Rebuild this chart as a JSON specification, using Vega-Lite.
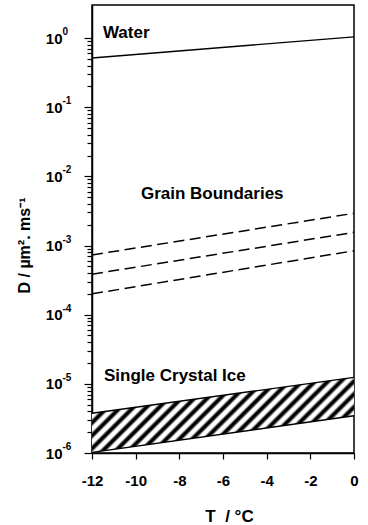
{
  "$schema": "https://vega.github.io/schema/vega-lite/v6.json",
  "width": 262,
  "height": 448,
  "autosize": "none",
  "padding": {"left": 92, "top": 5, "right": 14, "bottom": 72},
  "background": "white",
  "config": {
    "view": {"stroke": "black", "strokeWidth": 1.5},
    "font": "Liberation Sans",
    "axis": {
      "grid": false,
      "domainColor": "black",
      "domainWidth": 1.5,
      "tickColor": "black",
      "tickWidth": 1.2,
      "labelColor": "black",
      "titleColor": "black",
      "labelFont": "Liberation Sans",
      "labelFontWeight": "bold",
      "labelFontSize": 15,
      "titleFont": "Liberation Sans",
      "titleFontWeight": "bold",
      "titleFontSize": 17,
      "labelOverlap": false,
      "labelFlush": false
    }
  },
  "datasets": {
    "band": [
      {"T": -12, "lo": 1.02e-6, "hi": 3.75e-6},
      {"T": 0, "lo": 3.46e-6, "hi": 1.24e-5}
    ],
    "lines": [
      {"series": "Water", "kind": "solid", "T": -12, "D": 0.514},
      {"series": "Water", "kind": "solid", "T": 0, "D": 1.04},
      {"series": "GB1", "kind": "dashed", "T": -12, "D": 7.3e-4},
      {"series": "GB1", "kind": "dashed", "T": 0, "D": 2.92e-3},
      {"series": "GB2", "kind": "dashed", "T": -12, "D": 3.85e-4},
      {"series": "GB2", "kind": "dashed", "T": 0, "D": 1.55e-3},
      {"series": "GB3", "kind": "dashed", "T": -12, "D": 2.0e-4},
      {"series": "GB3", "kind": "dashed", "T": 0, "D": 8.4e-4},
      {"series": "IceHigh", "kind": "solid", "T": -12, "D": 3.75e-6},
      {"series": "IceHigh", "kind": "solid", "T": 0, "D": 1.24e-5},
      {"series": "IceLow", "kind": "solid", "T": -12, "D": 1.02e-6},
      {"series": "IceLow", "kind": "solid", "T": 0, "D": 3.46e-6}
    ],
    "labels": [
      {"T": -11.5, "D": 1.18, "text": "Water"},
      {"T": -9.76, "D": 5.5e-3, "text": "Grain Boundaries"},
      {"T": -11.45, "D": 1.3e-5, "text": "Single Crystal Ice"}
    ],
    "exps": [
      {"D": 1, "e": "0"},
      {"D": 0.1, "e": "-1"},
      {"D": 0.01, "e": "-2"},
      {"D": 0.001, "e": "-3"},
      {"D": 0.0001, "e": "-4"},
      {"D": 0.00001, "e": "-5"},
      {"D": 0.000001, "e": "-6"}
    ]
  },
  "layer": [
    {
      "data": {"name": "band"},
      "mark": {
        "type": "area",
        "fill": {
          "gradient": "linear",
          "x1": 0, "y1": 0, "x2": 1.189, "y2": 0.341,
          "stops": [
            {"offset": 0, "color": "#fff"},
            {"offset": 0.0058, "color": "#fff"}, {"offset": 0.0154, "color": "#000"}, {"offset": 0.0231, "color": "#000"}, {"offset": 0.0327, "color": "#fff"},
            {"offset": 0.0442, "color": "#fff"}, {"offset": 0.0538, "color": "#000"}, {"offset": 0.0615, "color": "#000"}, {"offset": 0.0712, "color": "#fff"},
            {"offset": 0.0827, "color": "#fff"}, {"offset": 0.0923, "color": "#000"}, {"offset": 0.1, "color": "#000"}, {"offset": 0.1096, "color": "#fff"},
            {"offset": 0.1212, "color": "#fff"}, {"offset": 0.1308, "color": "#000"}, {"offset": 0.1385, "color": "#000"}, {"offset": 0.1481, "color": "#fff"},
            {"offset": 0.1596, "color": "#fff"}, {"offset": 0.1692, "color": "#000"}, {"offset": 0.1769, "color": "#000"}, {"offset": 0.1865, "color": "#fff"},
            {"offset": 0.1981, "color": "#fff"}, {"offset": 0.2077, "color": "#000"}, {"offset": 0.2154, "color": "#000"}, {"offset": 0.225, "color": "#fff"},
            {"offset": 0.2365, "color": "#fff"}, {"offset": 0.2462, "color": "#000"}, {"offset": 0.2538, "color": "#000"}, {"offset": 0.2635, "color": "#fff"},
            {"offset": 0.275, "color": "#fff"}, {"offset": 0.2846, "color": "#000"}, {"offset": 0.2923, "color": "#000"}, {"offset": 0.3019, "color": "#fff"},
            {"offset": 0.3135, "color": "#fff"}, {"offset": 0.3231, "color": "#000"}, {"offset": 0.3308, "color": "#000"}, {"offset": 0.3404, "color": "#fff"},
            {"offset": 0.3519, "color": "#fff"}, {"offset": 0.3615, "color": "#000"}, {"offset": 0.3692, "color": "#000"}, {"offset": 0.3788, "color": "#fff"},
            {"offset": 0.3904, "color": "#fff"}, {"offset": 0.4, "color": "#000"}, {"offset": 0.4077, "color": "#000"}, {"offset": 0.4173, "color": "#fff"},
            {"offset": 0.4288, "color": "#fff"}, {"offset": 0.4385, "color": "#000"}, {"offset": 0.4462, "color": "#000"}, {"offset": 0.4558, "color": "#fff"},
            {"offset": 0.4673, "color": "#fff"}, {"offset": 0.4769, "color": "#000"}, {"offset": 0.4846, "color": "#000"}, {"offset": 0.4942, "color": "#fff"},
            {"offset": 0.5058, "color": "#fff"}, {"offset": 0.5154, "color": "#000"}, {"offset": 0.5231, "color": "#000"}, {"offset": 0.5327, "color": "#fff"},
            {"offset": 0.5442, "color": "#fff"}, {"offset": 0.5538, "color": "#000"}, {"offset": 0.5615, "color": "#000"}, {"offset": 0.5712, "color": "#fff"},
            {"offset": 0.5827, "color": "#fff"}, {"offset": 0.5923, "color": "#000"}, {"offset": 0.6, "color": "#000"}, {"offset": 0.6096, "color": "#fff"},
            {"offset": 0.6212, "color": "#fff"}, {"offset": 0.6308, "color": "#000"}, {"offset": 0.6385, "color": "#000"}, {"offset": 0.6481, "color": "#fff"},
            {"offset": 0.6596, "color": "#fff"}, {"offset": 0.6692, "color": "#000"}, {"offset": 0.6769, "color": "#000"}, {"offset": 0.6865, "color": "#fff"},
            {"offset": 0.6981, "color": "#fff"}, {"offset": 0.7077, "color": "#000"}, {"offset": 0.7154, "color": "#000"}, {"offset": 0.725, "color": "#fff"},
            {"offset": 0.7365, "color": "#fff"}, {"offset": 0.7462, "color": "#000"}, {"offset": 0.7538, "color": "#000"}, {"offset": 0.7635, "color": "#fff"},
            {"offset": 0.775, "color": "#fff"}, {"offset": 0.7846, "color": "#000"}, {"offset": 0.7923, "color": "#000"}, {"offset": 0.8019, "color": "#fff"},
            {"offset": 0.8135, "color": "#fff"}, {"offset": 0.8231, "color": "#000"}, {"offset": 0.8308, "color": "#000"}, {"offset": 0.8404, "color": "#fff"},
            {"offset": 0.8519, "color": "#fff"}, {"offset": 0.8615, "color": "#000"}, {"offset": 0.8692, "color": "#000"}, {"offset": 0.8788, "color": "#fff"},
            {"offset": 0.8904, "color": "#fff"}, {"offset": 0.9, "color": "#000"}, {"offset": 0.9077, "color": "#000"}, {"offset": 0.9173, "color": "#fff"},
            {"offset": 0.9288, "color": "#fff"}, {"offset": 0.9385, "color": "#000"}, {"offset": 0.9462, "color": "#000"}, {"offset": 0.9558, "color": "#fff"},
            {"offset": 0.9673, "color": "#fff"}, {"offset": 0.9769, "color": "#000"}, {"offset": 0.9846, "color": "#000"}, {"offset": 0.9942, "color": "#fff"},
            {"offset": 1, "color": "#fff"}
          ]
        }
      },
      "encoding": {
        "x": {
          "field": "T", "type": "quantitative",
          "scale": {"domain": [-12, 0], "nice": false},
          "axis": {
            "values": [-12, -11, -10, -9, -8, -7, -6, -5, -4, -3, -2, -1, 0],
            "tickSize": {"condition": {"test": "datum.value % 2 == 0", "value": 6}, "value": 4},
            "labelExpr": "datum.value % 2 == 0 ? '' + datum.value : ''",
            "labelPadding": 14,
            "title": "T\u00a0 / °C",
            "titleX": 137,
            "titleY": 63,
            "titleAlign": "center",
            "titleBaseline": "middle"
          }
        },
        "y": {
          "field": "hi", "type": "quantitative",
          "scale": {"type": "log", "domain": [1e-6, 3], "nice": false},
          "axis": {
            "values": [1e-6, 2e-6, 3e-6, 4e-6, 5e-6, 6e-6, 7e-6, 8e-6, 9e-6,
                       1e-5, 2e-5, 3e-5, 4e-5, 5e-5, 6e-5, 7e-5, 8e-5, 9e-5,
                       1e-4, 2e-4, 3e-4, 4e-4, 5e-4, 6e-4, 7e-4, 8e-4, 9e-4,
                       1e-3, 2e-3, 3e-3, 4e-3, 5e-3, 6e-3, 7e-3, 8e-3, 9e-3,
                       1e-2, 2e-2, 3e-2, 4e-2, 5e-2, 6e-2, 7e-2, 8e-2, 9e-2,
                       1e-1, 2e-1, 3e-1, 4e-1, 5e-1, 6e-1, 7e-1, 8e-1, 9e-1, 1],
            "tickSize": {"condition": {"test": "abs(log(datum.value)/LN10 - round(log(datum.value)/LN10)) < 0.001", "value": 8}, "value": 5},
            "labelExpr": "abs(log(datum.value)/LN10 - round(log(datum.value)/LN10)) < 0.001 ? '10' : ''",
            "labelPadding": 22,
            "title": "D / µm². ms⁻¹",
            "titleFontSize": 16,
            "titleX": -68,
            "titleY": 240,
            "titleAngle": -90,
            "titleAlign": "center",
            "titleBaseline": "middle"
          }
        },
        "y2": {"field": "lo"}
      }
    },
    {
      "data": {"name": "lines"},
      "transform": [{"filter": "datum.kind == 'solid'"}],
      "mark": {"type": "line", "color": "black", "strokeWidth": 1.4},
      "encoding": {
        "x": {"field": "T", "type": "quantitative"},
        "y": {"field": "D", "type": "quantitative"},
        "detail": {"field": "series"}
      }
    },
    {
      "data": {"name": "lines"},
      "transform": [{"filter": "datum.kind == 'dashed'"}],
      "mark": {"type": "line", "color": "black", "strokeWidth": 1.5, "strokeDash": [11, 5.5]},
      "encoding": {
        "x": {"field": "T", "type": "quantitative"},
        "y": {"field": "D", "type": "quantitative"},
        "detail": {"field": "series"}
      }
    },
    {
      "data": {"name": "labels"},
      "mark": {"type": "text", "align": "left", "baseline": "middle", "font": "Liberation Sans", "fontWeight": "bold", "fontSize": 17, "color": "black"},
      "encoding": {
        "x": {"field": "T", "type": "quantitative"},
        "y": {"field": "D", "type": "quantitative"},
        "text": {"field": "text"}
      }
    },
    {
      "data": {"name": "exps"},
      "mark": {"type": "text", "align": "left", "baseline": "middle", "font": "Liberation Sans", "fontWeight": "bold", "fontSize": 10, "color": "black", "dx": -29.5, "dy": -6},
      "encoding": {
        "x": {"datum": -12, "type": "quantitative"},
        "y": {"field": "D", "type": "quantitative"},
        "text": {"field": "e"}
      }
    }
  ]
}
